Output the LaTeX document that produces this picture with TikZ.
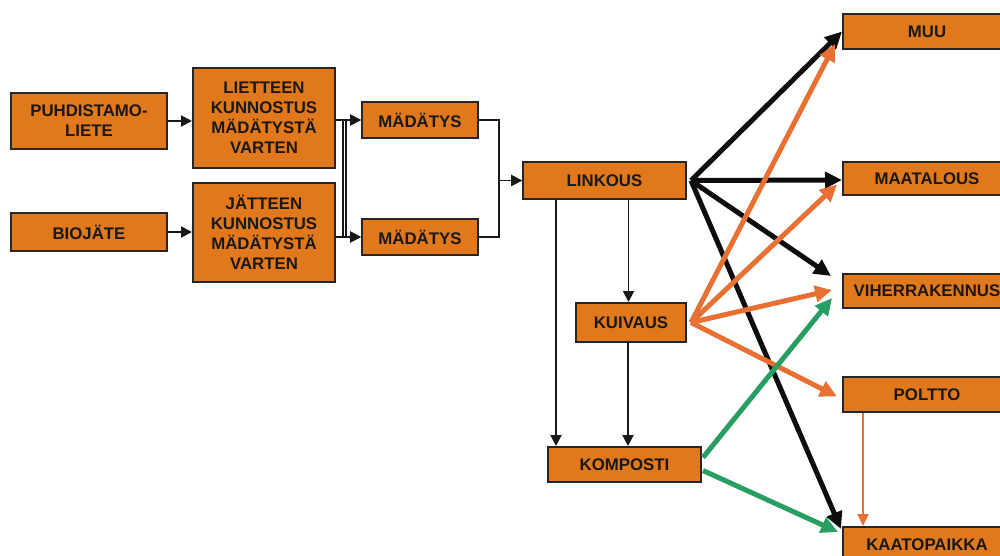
\documentclass[tikz,border=0pt]{standalone}
\usepackage{fontspec}
\setmainfont{Liberation Sans}
\usetikzlibrary{arrows.meta}
\definecolor{boxfill}{RGB}{226,120,28}
\definecolor{flowor}{RGB}{232,112,50}
\definecolor{flowgr}{RGB}{40,158,98}
\begin{document}
\begin{tikzpicture}[x=1pt,y=-1pt,
  box/.style={draw=black!85, line width=2pt, fill=boxfill, inner sep=0pt,
    font=\fontsize{16.8}{20}\selectfont\bfseries, align=center, text=black!90},
  thinline/.style={draw=black!90, line width=1.9pt},
  thinarrow/.style={thinline, -{Triangle[length=11pt,width=11pt]}},
  fat/.style={line width=5pt, -{Triangle[length=17pt,width=16pt]}},
  orthin/.style={draw=flowor, line width=2.2pt, -{Triangle[length=12pt,width=11pt]}}]
\useasboundingbox (0,0) rectangle (1000,555);
\clip (0,0) rectangle (1000,555);

% process boxes
\node[box, minimum width=156, minimum height=56] (puh) at (89,121) {PUHDISTAMO-\\LIETE};
\node[box, minimum width=142, minimum height=100] (liet) at (264,118) {LIETTEEN\\KUNNOSTUS\\MÄDÄTYSTÄ\\VARTEN};
\node[box, minimum width=156, minimum height=38] (bio) at (89,232) {BIOJÄTE};
\node[box, minimum width=142, minimum height=99] (jat) at (264,232.5) {JÄTTEEN\\KUNNOSTUS\\MÄDÄTYSTÄ\\VARTEN};
\node[box, minimum width=116, minimum height=36] (mad1) at (420,120) {MÄDÄTYS};
\node[box, minimum width=116, minimum height=36] (mad2) at (420,237) {MÄDÄTYS};
\node[box, minimum width=163, minimum height=37] (link) at (604.5,180.5) {LINKOUS};
\node[box, minimum width=110, minimum height=39] (kuiv) at (631,322.5) {KUIVAUS};
\node[box, minimum width=153, minimum height=35] (komp) at (624.5,464.5) {KOMPOSTI};

% end uses
\node[box, minimum width=168, minimum height=35] (muu) at (927,31.5) {MUU};
\node[box, minimum width=168, minimum height=33] (maa) at (927,178.5) {MAATALOUS};
\node[box, minimum width=168, minimum height=34] (vih) at (927,291) {VIHERRAKENNUS};
\node[box, minimum width=168, minimum height=35] (pol) at (927,394.5) {POLTTO};
\node[box, minimum width=168, minimum height=36] (kaa) at (927,545) {KAATOPAIKKA};

% pretreatment and digestion
\draw[thinarrow] (puh.east) -- (puh.east -| liet.west);
\draw[thinarrow] (bio.east) -- (bio.east -| jat.west);
\draw[thinarrow] (liet.east |- mad1) -- (mad1.west);
\draw[thinarrow] (jat.east |- mad2) -- (mad2.west);
\draw[thinarrow] (liet.east |- mad1) -- ++(7,0) |- (mad2.west);
\draw[thinarrow] (jat.east |- mad2) -- ++(10,0) |- (mad1.west);
\draw[thinarrow] (mad1.east) -- ++(20,0) |- (link.west);
\draw[thinarrow] (mad2.east) -- ++(20,0) |- (link.west);

% dewatering, drying, composting
\draw[thinarrow] ([xshift=-48.5]link.south) -- ([xshift=-48.5]link.south |- komp.north);
\draw[thinarrow] ([xshift=24]link.south) -- ([xshift=24]link.south |- kuiv.north);
\draw[thinarrow] ([xshift=-3]kuiv.south) -- ([xshift=-3]kuiv.south |- komp.north);

% outlets
\coordinate (lk) at ([xshift=4]link.east);
\coordinate (kv) at ([xshift=4]kuiv.east);
\draw[fat, draw=black!95, fill=black!95] (lk) -- (muu.west);
\draw[fat, draw=black!95, fill=black!95] (lk) -- ([shift={(0,1.5)}]maa.west);
\draw[fat, draw=black!95, fill=black!95] (lk) -- ([shift={(-11,3)}]vih.north west);
\draw[fat, draw=black!95, fill=black!95] (lk) -- ([shift={(-1,3)}]kaa.north west);

\draw[fat, draw=flowor, fill=flowor] (kv) -- ([shift={(-7,-6)}]muu.south west);
\draw[fat, draw=flowor, fill=flowor] (kv) -- ([shift={(-5,6)}]maa.west);
\draw[fat, draw=flowor, fill=flowor] (kv) -- ([shift={(-10,-1)}]vih.west);
\draw[fat, draw=flowor, fill=flowor] (kv) -- ([shift={(-5,2)}]pol.west);

\draw[fat, draw=flowgr, fill=flowgr] ([shift={(1,-7)}]komp.east) -- ([shift={(-10,7)}]vih.west);
\draw[fat, draw=flowgr, fill=flowgr] ([shift={(1,6)}]komp.east) -- ([shift={(-4,6)}]kaa.north west);

\draw[orthin] ([xshift=-64]pol.south) -- ([xshift=-64]kaa.north);
\end{tikzpicture}
\end{document}
